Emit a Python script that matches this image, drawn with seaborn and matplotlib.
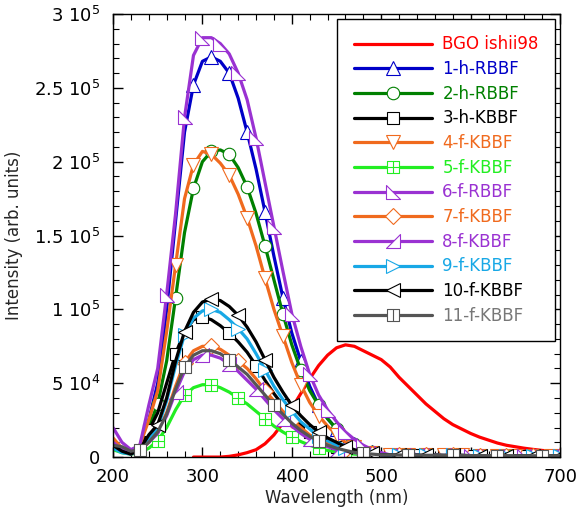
import numpy as np
import pandas as pd
import seaborn as sns
import matplotlib
matplotlib.use("Agg")
import matplotlib.pyplot as plt
from matplotlib.path import Path
from matplotlib.ticker import MultipleLocator

sns.set_style("ticks")
plt.rcParams['font.family'] = ['DejaVu Sans']
plt.rcParams['mathtext.default'] = 'regular'

# wavelength grid for the KBBF/RBBF spectra (nm)
wavelength = list(range(200, 710, 10))

tail = [1500, 1400, 1300, 1300, 1200, 1200, 1100, 1100, 1100, 1000,
        1000, 1000, 1000, 1000, 900, 900, 900, 900, 900, 900]

s1_h_rbbf = [8e3, 5e3, 3e3, 6e3, 2.5e4, 5e4, 1.0e5, 1.6e5, 2.2e5, 2.52e5, 2.68e5, 2.71e5,
             2.68e5, 2.6e5, 2.43e5, 2.2e5, 1.95e5, 1.66e5, 1.36e5, 1.08e5, 8.4e4, 6.5e4, 4.8e4,
             3.5e4, 2.6e4, 1.9e4, 1.3e4, 9e3, 6e3, 3.5e3, 2e3] + tail
s2_h_rbbf = [1.0e4, 6e3, 3e3, 7e3, 2e4, 3.6e4, 6.5e4, 1.08e5, 1.52e5, 1.82e5, 2.0e5, 2.07e5,
             2.08e5, 2.05e5, 1.96e5, 1.83e5, 1.65e5, 1.43e5, 1.2e5, 9.7e4, 7.6e4, 5.9e4, 4.5e4,
             3.5e4, 2.6e4, 1.9e4, 1.3e4, 9e3, 6e3, 3.5e3, 2e3] + tail
s3_h_kbbf = [8e3, 4e3, 3e3, 6e3, 1.8e4, 3e4, 5e4, 7e4, 8.5e4, 9.3e4, 9.5e4, 9.3e4,
             8.9e4, 8.4e4, 7.8e4, 7.1e4, 6.2e4, 5.2e4, 4.3e4, 3.5e4, 2.8e4, 2.2e4, 1.7e4,
             1.3e4, 1.0e4, 7e3, 5e3, 3.5e3, 2.5e3, 2e3, 1.5e3] + tail
s4_f_kbbf = [1.3e4, 6e3, 3e3, 8e3, 2.5e4, 4.5e4, 8.5e4, 1.3e5, 1.75e5, 1.98e5, 2.07e5, 2.05e5,
             1.99e5, 1.91e5, 1.78e5, 1.62e5, 1.43e5, 1.21e5, 1.0e5, 8.2e4, 6.4e4, 4.9e4, 3.7e4,
             2.8e4, 2.1e4, 1.5e4, 1.0e4, 7e3, 5e3, 3e3, 2e3] + tail
s5_f_kbbf = [5e3, 3e3, 2e3, 3e3, 6e3, 1.1e4, 2.0e4, 3.2e4, 4.2e4, 4.7e4, 4.9e4, 4.9e4,
             4.7e4, 4.4e4, 4.0e4, 3.6e4, 3.1e4, 2.6e4, 2.1e4, 1.7e4, 1.35e4, 1.05e4, 8e3,
             6e3, 4.5e3, 3.5e3, 2.5e3, 2e3, 1.5e3, 1e3, 1e3] + tail
s6_f_rbbf = [2.0e4, 1.0e4, 5e3, 8e3, 3.5e4, 6e4, 1.1e5, 1.65e5, 2.3e5, 2.72e5, 2.84e5, 2.84e5,
             2.8e5, 2.73e5, 2.6e5, 2.42e5, 2.16e5, 1.86e5, 1.56e5, 1.26e5, 9.7e4, 7.5e4, 5.6e4,
             4.2e4, 3.2e4, 2.4e4, 1.7e4, 1.2e4, 8e3, 5e3, 3e3] + tail
s7_f_kbbf = [1.0e4, 5e3, 2e3, 4e3, 1.0e4, 1.7e4, 3.0e4, 4.8e4, 6.4e4, 7.2e4, 7.5e4, 7.5e4,
             7.3e4, 6.9e4, 6.5e4, 6.0e4, 5.3e4, 4.5e4, 3.8e4, 3.1e4, 2.5e4, 2.0e4, 1.5e4,
             1.2e4, 9e3, 6.5e3, 5e3, 3.5e3, 2.5e3, 2e3, 1.5e3] + tail
s8_f_kbbf = [1.0e4, 5e3, 3e3, 5e3, 1.0e4, 1.6e4, 2.8e4, 4.4e4, 5.8e4, 6.6e4, 6.9e4, 6.9e4,
             6.7e4, 6.3e4, 5.8e4, 5.2e4, 4.6e4, 3.9e4, 3.2e4, 2.6e4, 2.1e4, 1.6e4, 1.2e4,
             9e3, 7e3, 5e3, 4e3, 3e3, 2.3e3, 1.8e3, 1.5e3] + tail
s9_f_kbbf = [6e3, 3e3, 2e3, 4e3, 1.2e4, 2e4, 3.8e4, 6.2e4, 8.3e4, 9.4e4, 9.9e4, 1.0e5,
             9.8e4, 9.3e4, 8.7e4, 8.0e4, 7.0e4, 5.9e4, 4.8e4, 3.9e4, 3.1e4, 2.4e4, 1.9e4,
             1.4e4, 1.1e4, 8e3, 6e3, 4e3, 3e3, 2e3, 1.5e3] + tail
s10_f_kbbf = [8e3, 4e3, 2e3, 5e3, 1.5e4, 2.2e4, 4e4, 6.5e4, 8.5e4, 9.8e4, 1.05e5, 1.07e5,
              1.06e5, 1.02e5, 9.6e4, 8.8e4, 7.8e4, 6.6e4, 5.4e4, 4.4e4, 3.5e4, 2.8e4, 2.2e4,
              1.7e4, 1.3e4, 1.0e4, 7e3, 5e3, 3.5e3, 2.5e3, 1.5e3] + tail
s11_f_kbbf = [8e3, 7e3, 4e3, 5e3, 1.0e4, 1.7e4, 2.9e4, 4.6e4, 6.1e4, 6.9e4, 7.2e4, 7.2e4,
              7.0e4, 6.6e4, 6.1e4, 5.6e4, 4.9e4, 4.2e4, 3.5e4, 2.9e4, 2.3e4, 1.8e4, 1.4e4,
              1.1e4, 8e3, 6e3, 4.5e3, 3.2e3, 2.5e3, 2e3, 1.5e3] + tail

# BGO reference emission (ishii98)
bgo_wavelength = list(range(290, 710, 10))
bgo = [0, 0, 0, 0, 500, 1.5e3, 3e3, 5e3, 9e3, 1.5e4, 2.3e4, 3.3e4, 4.3e4, 5.3e4, 6.2e4,
       6.9e4, 7.4e4, 7.6e4, 7.5e4, 7.2e4, 6.9e4, 6.6e4, 6.1e4, 5.4e4, 4.8e4, 4.2e4, 3.6e4,
       3.1e4, 2.6e4, 2.2e4, 1.9e4, 1.6e4, 1.35e4, 1.15e4, 9.5e3, 8e3, 7e3, 6e3, 5.2e3,
       4.5e3, 4e3, 3.5e3]

# custom markers
sq_cross = Path([(-1, -1), (1, -1), (1, 1), (-1, 1), (-1, -1), (0, -1), (0, 1), (-1, 0), (1, 0)],
                [Path.MOVETO, Path.LINETO, Path.LINETO, Path.LINETO, Path.CLOSEPOLY,
                 Path.MOVETO, Path.LINETO, Path.MOVETO, Path.LINETO])
sq_split = Path([(-1, -1), (1, -1), (1, 1), (-1, 1), (-1, -1), (0, -1), (0, 1)],
                [Path.MOVETO, Path.LINETO, Path.LINETO, Path.LINETO, Path.CLOSEPOLY,
                 Path.MOVETO, Path.LINETO])
tri_left = Path([(-1, 1), (-1, -1), (1, -1), (-1, 1)],
                [Path.MOVETO, Path.LINETO, Path.LINETO, Path.CLOSEPOLY])
tri_right = Path([(1, 1), (1, -1), (-1, -1), (1, 1)],
                 [Path.MOVETO, Path.LINETO, Path.LINETO, Path.CLOSEPOLY])

orange = '#F06A1E'
purple = '#9A32D2'
series = [
    ("1-h-RBBF", s1_h_rbbf, '#0000C8', '^', 10, (9, 2)),
    ("2-h-RBBF", s2_h_rbbf, '#008000', 'o', 9, (5, 2)),
    ("3-h-KBBF", s3_h_kbbf, 'black', 's', 9, (4, 3)),
    ("4-f-KBBF", s4_f_kbbf, orange, 'v', 10, (7, 2)),
    ("5-f-KBBF", s5_f_kbbf, '#22EE22', sq_cross, 9, (5, 3)),
    ("6-f-RBBF", s6_f_rbbf, purple, tri_left, 10, (6, 2)),
    ("7-f-KBBF", s7_f_kbbf, orange, 'D', 8, (8, 3)),
    ("8-f-KBBF", s8_f_kbbf, purple, tri_right, 10, (7, 3)),
    ("9-f-KBBF", s9_f_kbbf, '#18A8E6', '>', 10, (8, 3)),
    ("10-f-KBBF", s10_f_kbbf, 'black', '<', 10, (5, 3)),
    ("11-f-KBBF", s11_f_kbbf, '#555555', sq_split, 9, (3, 5)),
]

fig, ax = plt.subplots(figsize=(5.84, 5.20), dpi=100)
fig.subplots_adjust(left=0.1935, right=0.959, top=0.973, bottom=0.121)

sns.lineplot(x=bgo_wavelength, y=bgo, ax=ax, color='#FF0000', lw=2.3,
             label='BGO ishii98', estimator=None)
for name, vals, col, mk, ms, me in series:
    sns.lineplot(x=wavelength, y=vals, ax=ax, color=col, lw=2.3, label=name,
                 marker=mk, markersize=ms, markevery=me, mfc='white', mec=col,
                 mew=0.8, estimator=None)

ax.set_xlim(200, 700)
ax.set_ylim(0, 3e5)
ax.xaxis.set_major_locator(MultipleLocator(100))
ax.xaxis.set_minor_locator(MultipleLocator(20))
ax.yaxis.set_major_locator(MultipleLocator(5e4))
ax.yaxis.set_minor_locator(MultipleLocator(1e4))
ax.set_yticks([0, 5e4, 1e5, 1.5e5, 2e5, 2.5e5, 3e5])
ax.set_yticklabels(['0', '5 10$^4$', '1 10$^5$', '1.5 10$^5$', '2 10$^5$',
                    '2.5 10$^5$', '3 10$^5$'])
ax.tick_params(which='both', direction='in', top=True, right=True,
               labelsize=13, colors='black')
ax.tick_params(axis='y', pad=9)
ax.tick_params(axis='x', pad=8)
ax.tick_params(which='major', length=7, width=1)
ax.tick_params(which='minor', length=4, width=0.8)
for sp in ax.spines.values():
    sp.set_linewidth(1)
    sp.set_color('black')
ax.set_xlabel('Wavelength (nm)', fontsize=12, labelpad=2)
ax.set_ylabel('Intensity (arb. units)', fontsize=12, labelpad=8)

leg = ax.legend(loc='upper right', bbox_to_anchor=(0.997, 0.997), fontsize=12,
                handlelength=4.7, labelspacing=0.4, borderpad=1.0,
                handletextpad=0.6, fancybox=False, framealpha=1,
                edgecolor='black', borderaxespad=0.2)
leg.get_frame().set_linewidth(1)
for txt, ln in zip(leg.get_texts(), leg.get_lines()):
    txt.set_color(ln.get_color())
leg.get_texts()[-1].set_color('#777777')

fig.savefig('out.png', dpi=100)
